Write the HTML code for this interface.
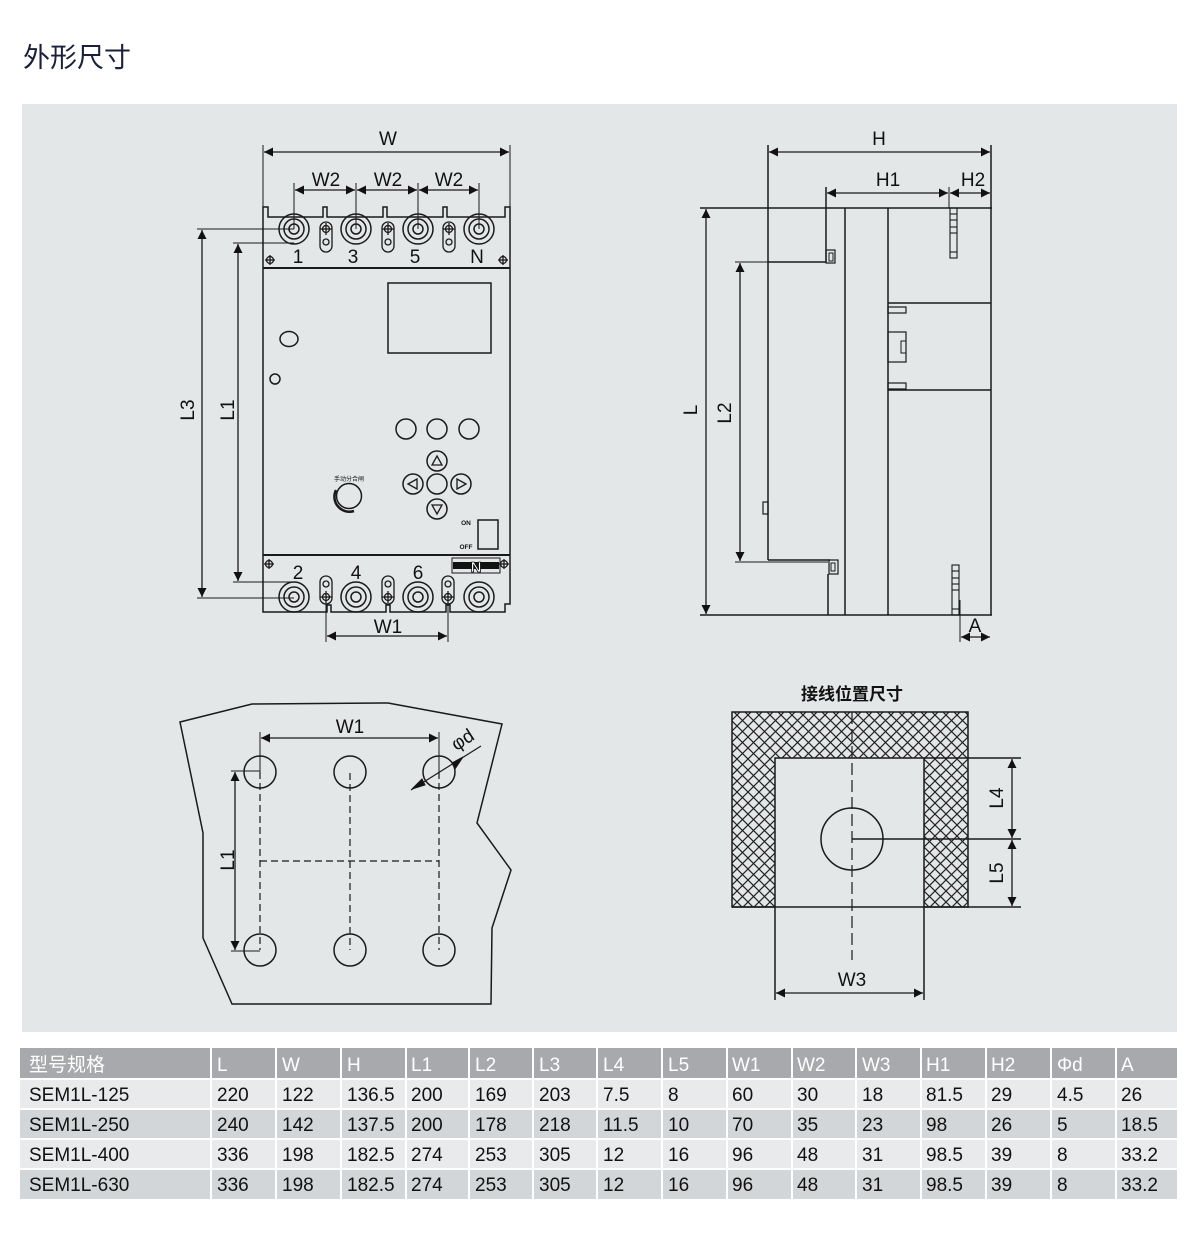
<!DOCTYPE html>
<html><head><meta charset="utf-8"><style>
html,body{margin:0;padding:0;background:#fff;}
body{width:1200px;height:1258px;position:relative;overflow:hidden;font-family:"Liberation Sans","Noto Sans CJK SC",sans-serif;}
svg{position:absolute;left:0;top:0;}
text{font-family:"Liberation Sans","Noto Sans CJK SC",sans-serif;}
</style></head><body>
<svg width="1200" height="1258" viewBox="0 0 1200 1258" xmlns="http://www.w3.org/2000/svg">
<defs>
<marker id="a" viewBox="0 0 10 10" refX="10" refY="5" markerWidth="13" markerHeight="9" markerUnits="userSpaceOnUse" orient="auto-start-reverse"><path d="M0,0 L10,5 L0,10 z" fill="#111"/></marker>
<pattern id="hatch" width="11" height="11" patternUnits="userSpaceOnUse">
<rect width="11" height="11" fill="#e4e7e8"/>
<path d="M-1,-1 L12,12 M-1,10 L1,12 M10,-1 L12,1 M12,-1 L-1,12 M-1,1 L1,-1 M10,12 L12,10" stroke="#222" stroke-width="1.2"/>
</pattern>
</defs>
<text x="23" y="67" font-size="27" fill="#1a1f3a">外形尺寸</text>
<rect x="22" y="104" width="1155" height="928" fill="#e4e7e8"/>

<g stroke="#1a1a1a" stroke-width="1.5" fill="none">
<path d="M263,268 L263,207 L268,207 L268,217 L323,217 L323,207 L327,207 L327,217 L383,217 L383,207 L387,207 L387,217 L443,217 L443,207 L447,207 L447,217 L505,217 L505,207 L510,207 L510,268"/>
<line x1="263" y1="268" x2="510" y2="268" stroke-width="2"/>
<line x1="263" y1="268" x2="263" y2="555"/>
<line x1="510" y1="268" x2="510" y2="555"/>
<line x1="263" y1="555" x2="510" y2="555" stroke-width="2"/>
<path d="M263,555 L263,612 L327,612 L327,605 L331,605 L331,612 L386,612 L386,605 L390,605 L390,612 L446,612 L446,605 L450,605 L450,612 L505,612 L505,604 L510,604 L510,555"/>
<g>
<circle cx="294" cy="229" r="15"/><circle cx="294" cy="229" r="10"/><circle cx="294" cy="229" r="5"/>
<circle cx="356" cy="229" r="15"/><circle cx="356" cy="229" r="10"/><circle cx="356" cy="229" r="5"/>
<circle cx="418" cy="229" r="15"/><circle cx="418" cy="229" r="10"/><circle cx="418" cy="229" r="5"/>
<circle cx="479" cy="229" r="15"/><circle cx="479" cy="229" r="10"/><circle cx="479" cy="229" r="5"/>
<circle cx="294" cy="597" r="15"/><circle cx="294" cy="597" r="10"/><circle cx="294" cy="597" r="5"/>
<circle cx="356" cy="597" r="15"/><circle cx="356" cy="597" r="10"/><circle cx="356" cy="597" r="5"/>
<circle cx="418" cy="597" r="15"/><circle cx="418" cy="597" r="10"/><circle cx="418" cy="597" r="5"/>
<circle cx="479" cy="597" r="15"/><circle cx="479" cy="597" r="10"/><circle cx="479" cy="597" r="5"/>
</g>
<g stroke-width="1.3">
<path d="M320,228 L320,246 A6,6 0 0 0 332,246 L332,228 A6,6 0 0 0 320,228 z"/><circle cx="326" cy="229" r="3.5"/><line x1="320" y1="229" x2="332" y2="229"/><line x1="326" y1="223" x2="326" y2="235"/><circle cx="326" cy="242" r="3"/>
<path d="M382,228 L382,246 A6,6 0 0 0 394,246 L394,228 A6,6 0 0 0 382,228 z"/><circle cx="388" cy="229" r="3.5"/><line x1="382" y1="229" x2="394" y2="229"/><line x1="388" y1="223" x2="388" y2="235"/><circle cx="388" cy="242" r="3"/>
<path d="M443,228 L443,246 A6,6 0 0 0 455,246 L455,228 A6,6 0 0 0 443,228 z"/><circle cx="449" cy="229" r="3.5"/><line x1="443" y1="229" x2="455" y2="229"/><line x1="449" y1="223" x2="449" y2="235"/><circle cx="449" cy="242" r="3"/>
<path d="M320,582 L320,598 A6,6 0 0 0 332,598 L332,582 A6,6 0 0 0 320,582 z"/><circle cx="326" cy="584" r="3"/><circle cx="326" cy="597" r="3.5"/><line x1="320" y1="597" x2="332" y2="597"/><line x1="326" y1="591" x2="326" y2="603"/>
<path d="M382,582 L382,598 A6,6 0 0 0 394,598 L394,582 A6,6 0 0 0 382,582 z"/><circle cx="388" cy="584" r="3"/><circle cx="388" cy="597" r="3.5"/><line x1="382" y1="597" x2="394" y2="597"/><line x1="388" y1="591" x2="388" y2="603"/>
<path d="M442,582 L442,598 A6,6 0 0 0 454,598 L454,582 A6,6 0 0 0 442,582 z"/><circle cx="448" cy="584" r="3"/><circle cx="448" cy="597" r="3.5"/><line x1="442" y1="597" x2="454" y2="597"/><line x1="448" y1="591" x2="448" y2="603"/>
<circle cx="270" cy="260" r="3.5"/><line x1="265" y1="260" x2="275" y2="260"/><line x1="270" y1="255" x2="270" y2="265"/>
<circle cx="503" cy="260" r="3.5"/><line x1="498" y1="260" x2="508" y2="260"/><line x1="503" y1="255" x2="503" y2="265"/>
<circle cx="269" cy="564" r="3.5"/><line x1="264" y1="564" x2="274" y2="564"/><line x1="269" y1="559" x2="269" y2="569"/>
<circle cx="504" cy="564" r="3.5"/><line x1="499" y1="564" x2="509" y2="564"/><line x1="504" y1="559" x2="504" y2="569"/>
</g>
<rect x="388" y="283" width="103" height="70"/>
<ellipse cx="289" cy="339" rx="9" ry="7.5"/>
<circle cx="275" cy="379" r="5"/>
<circle cx="406" cy="429" r="10"/><circle cx="437" cy="429" r="10"/><circle cx="469" cy="429" r="10"/>
<circle cx="437" cy="461" r="10"/><circle cx="437" cy="484" r="10"/><circle cx="437" cy="509" r="10"/><circle cx="413" cy="484" r="10"/><circle cx="461" cy="484" r="10"/>
<path d="M437,456 L432,465 L442,465 z M437,514 L432,505 L442,505 z M408,484 L417,479 L417,489 z M466,484 L457,479 L457,489 z" stroke-width="1.3"/>
<circle cx="349" cy="496" r="12.5"/>
<path d="M336,490 A15,15 0 0 0 354,511" stroke-width="2.5"/>
<rect x="478" y="520" width="20" height="29"/>
<rect x="452" y="558" width="48" height="15" stroke-width="1"/>
<line x1="263" y1="145" x2="263" y2="207" stroke-width="1"/>
<line x1="510" y1="145" x2="510" y2="207" stroke-width="1"/>
<line x1="264" y1="152" x2="509" y2="152" marker-start="url(#a)" marker-end="url(#a)" stroke-width="1.3"/>
<line x1="294" y1="183" x2="294" y2="229" stroke-width="1"/><line x1="356" y1="183" x2="356" y2="229" stroke-width="1"/><line x1="418" y1="183" x2="418" y2="229" stroke-width="1"/><line x1="479" y1="183" x2="479" y2="229" stroke-width="1"/>
<line x1="295" y1="190" x2="355" y2="190" marker-start="url(#a)" marker-end="url(#a)" stroke-width="1.3"/>
<line x1="357" y1="190" x2="417" y2="190" marker-start="url(#a)" marker-end="url(#a)" stroke-width="1.3"/>
<line x1="419" y1="190" x2="478" y2="190" marker-start="url(#a)" marker-end="url(#a)" stroke-width="1.3"/>
<line x1="197" y1="229" x2="294" y2="229" stroke-width="1"/><line x1="197" y1="598" x2="294" y2="598" stroke-width="1"/>
<line x1="202" y1="230" x2="202" y2="597" marker-start="url(#a)" marker-end="url(#a)" stroke-width="1.3"/>
<line x1="233" y1="243" x2="294" y2="243" stroke-width="1"/><line x1="233" y1="582" x2="294" y2="582" stroke-width="1"/>
<line x1="238" y1="244" x2="238" y2="581" marker-start="url(#a)" marker-end="url(#a)" stroke-width="1.3"/>
<line x1="326" y1="600" x2="326" y2="642" stroke-width="1"/><line x1="448" y1="600" x2="448" y2="642" stroke-width="1"/>
<line x1="327" y1="636" x2="447" y2="636" marker-start="url(#a)" marker-end="url(#a)" stroke-width="1.3"/>

<line x1="700" y1="208" x2="992" y2="208"/>
<line x1="700" y1="615" x2="992" y2="615"/>
<line x1="768" y1="145" x2="768" y2="560"/>
<line x1="768" y1="262" x2="826" y2="262"/>
<line x1="768" y1="560" x2="830" y2="560"/>
<line x1="826" y1="187" x2="826" y2="262"/>
<rect x="826" y="250" width="9" height="13" stroke-width="1.2"/><rect x="829" y="253" width="4" height="8" stroke-width="1"/>
<rect x="829" y="560" width="9" height="14" stroke-width="1.2"/><rect x="831" y="563" width="4" height="8" stroke-width="1"/>
<line x1="828" y1="574" x2="828" y2="615"/>
<line x1="845" y1="208" x2="845" y2="615"/>
<line x1="888" y1="208" x2="888" y2="615"/>
<line x1="991" y1="145" x2="991" y2="615"/>
<line x1="888" y1="303" x2="991" y2="303"/>
<line x1="888" y1="390" x2="991" y2="390"/>
<rect x="888" y="307" width="18" height="6" stroke-width="1.2"/>
<rect x="888" y="383" width="18" height="6" stroke-width="1.2"/>
<rect x="888" y="332" width="18" height="30" stroke-width="1.2"/><rect x="901" y="341" width="5" height="12" stroke-width="1"/>
<rect x="763" y="502" width="5" height="12" stroke-width="1.2"/>
<g stroke-width="1.1"><rect x="950" y="208" width="7" height="50"/><line x1="950" y1="214" x2="957" y2="214"/><line x1="950" y1="220" x2="957" y2="220"/><line x1="950" y1="227" x2="957" y2="227"/><line x1="950" y1="233" x2="957" y2="233"/><line x1="950" y1="252" x2="957" y2="252"/>
<rect x="952" y="565" width="7" height="50"/><line x1="952" y1="571" x2="959" y2="571"/><line x1="952" y1="578" x2="959" y2="578"/><line x1="952" y1="584" x2="959" y2="584"/><line x1="952" y1="590" x2="959" y2="590"/><line x1="952" y1="609" x2="959" y2="609"/></g>
<line x1="769" y1="152" x2="990" y2="152" marker-start="url(#a)" marker-end="url(#a)" stroke-width="1.3"/>
<line x1="949" y1="187" x2="949" y2="208" stroke-width="1"/>
<line x1="827" y1="193" x2="948" y2="193" marker-start="url(#a)" marker-end="url(#a)" stroke-width="1.3"/>
<line x1="950" y1="193" x2="990" y2="193" marker-start="url(#a)" marker-end="url(#a)" stroke-width="1.3"/>
<line x1="706" y1="209" x2="706" y2="614" marker-start="url(#a)" marker-end="url(#a)" stroke-width="1.3"/>
<line x1="735" y1="262" x2="768" y2="262" stroke-width="1"/><line x1="735" y1="562" x2="828" y2="562" stroke-width="1"/>
<line x1="740" y1="263" x2="740" y2="561" marker-start="url(#a)" marker-end="url(#a)" stroke-width="1.3"/>
<line x1="960" y1="600" x2="960" y2="642" stroke-width="1"/>
<line x1="961" y1="637" x2="990" y2="637" marker-start="url(#a)" marker-end="url(#a)" stroke-width="1.3"/>

<path d="M180,722 L252,704 L388,703 L502,724 L477,823 L511,870 L492,928 L491,1004 L232,1004 L203,938 L203,833 Z"/>
<circle cx="260" cy="772" r="16"/><circle cx="350" cy="772" r="16"/><circle cx="439" cy="772" r="16"/>
<circle cx="260" cy="950" r="16"/><circle cx="350" cy="950" r="16"/><circle cx="439" cy="950" r="16"/>
<g stroke-dasharray="7,4" stroke-width="1.2">
<line x1="260" y1="772" x2="260" y2="950"/><line x1="350" y1="773" x2="350" y2="950"/><line x1="439" y1="772" x2="439" y2="950"/>
<line x1="260" y1="861" x2="439" y2="861"/>
</g>
<line x1="260" y1="732" x2="260" y2="772" stroke-width="1"/><line x1="439" y1="732" x2="439" y2="772" stroke-width="1"/>
<line x1="261" y1="738" x2="438" y2="738" marker-start="url(#a)" marker-end="url(#a)" stroke-width="1.3"/>
<line x1="231" y1="771" x2="260" y2="771" stroke-width="1"/><line x1="231" y1="951" x2="260" y2="951" stroke-width="1"/>
<line x1="235" y1="772" x2="235" y2="950" marker-start="url(#a)" marker-end="url(#a)" stroke-width="1.3"/>
<line x1="411" y1="790" x2="481" y2="746" stroke-width="1.2"/>
<path d="M412,789 L422,779 L425,785 z M463,757 L452,763 L455,769 z" fill="#111" stroke-width="1"/>

<path d="M732,712 L968,712 L968,907 L924,907 L924,758 L775,758 L775,907 L732,907 Z" fill="url(#hatch)"/>
<circle cx="852" cy="839" r="31"/>
<line x1="852" y1="712" x2="852" y2="960" stroke-dasharray="12,5" stroke-width="1.2"/>
<line x1="852" y1="839" x2="1021" y2="839"/>
<line x1="924" y1="758" x2="1021" y2="758"/>
<line x1="732" y1="907" x2="1021" y2="907"/>
<line x1="1012" y1="759" x2="1012" y2="838" marker-start="url(#a)" marker-end="url(#a)" stroke-width="1.3"/>
<line x1="1012" y1="840" x2="1012" y2="906" marker-start="url(#a)" marker-end="url(#a)" stroke-width="1.3"/>
<line x1="775" y1="907" x2="775" y2="1000"/><line x1="924" y1="907" x2="924" y2="1000"/>
<line x1="776" y1="993" x2="923" y2="993" marker-start="url(#a)" marker-end="url(#a)" stroke-width="1.3"/>
</g>

<g fill="#111" font-size="19" text-anchor="middle">
<text x="388" y="145">W</text>
<text x="326" y="186">W2</text><text x="388" y="186">W2</text><text x="449" y="186">W2</text>
<text x="298" y="263">1</text><text x="353" y="263">3</text><text x="415" y="263">5</text><text x="477" y="263">N</text>
<text x="298" y="579">2</text><text x="356" y="579">4</text><text x="418" y="579">6</text>
<text x="388" y="633">W1</text>
<text x="194" y="410" transform="rotate(-90 194 410)">L3</text>
<text x="234" y="410" transform="rotate(-90 234 410)">L1</text>
<text x="879" y="145">H</text>
<text x="888" y="186">H1</text><text x="973" y="186">H2</text>
<text x="697" y="410" transform="rotate(-90 697 410)">L</text>
<text x="731" y="413" transform="rotate(-90 731 413)">L2</text>
<text x="975" y="632">A</text>
<text x="350" y="733">W1</text>
<text x="234" y="860" transform="rotate(-90 234 860)">L1</text>
<text x="466" y="745" transform="rotate(-33 466 745)">φd</text>
<text x="852" y="700" font-weight="bold" font-size="17">接线位置尺寸</text>
<text x="1003" y="798" transform="rotate(-90 1003 798)">L4</text>
<text x="1003" y="873" transform="rotate(-90 1003 873)">L5</text>
<text x="852" y="986">W3</text>
<text x="349" y="481" font-size="6">手动分合闸</text>
<text x="466" y="525" font-size="6.5" font-weight="bold">ON</text>
<text x="466" y="549" font-size="6.5" font-weight="bold">OFF</text>
</g>
<rect x="453" y="562" width="46" height="7" fill="#111"/>
<text x="476" y="572" font-size="15" font-weight="bold" fill="#fff" stroke="#111" stroke-width="0.8" text-anchor="middle">N</text>

<g>
<rect x="20" y="1048" width="1157" height="31" fill="#a7a9ac"/>
<rect x="20" y="1079" width="1157" height="30" fill="#e8eaeb"/>
<rect x="20" y="1109" width="1157" height="30" fill="#d3d6d8"/>
<rect x="20" y="1139" width="1157" height="30" fill="#e8eaeb"/>
<rect x="20" y="1169" width="1157" height="30" fill="#d3d6d8"/>
<g stroke="#fff" stroke-width="2">
<line x1="211" y1="1048" x2="211" y2="1199"/><line x1="276" y1="1048" x2="276" y2="1199"/><line x1="341" y1="1048" x2="341" y2="1199"/><line x1="406" y1="1048" x2="406" y2="1199"/><line x1="469" y1="1048" x2="469" y2="1199"/><line x1="533" y1="1048" x2="533" y2="1199"/><line x1="597" y1="1048" x2="597" y2="1199"/><line x1="662" y1="1048" x2="662" y2="1199"/><line x1="727" y1="1048" x2="727" y2="1199"/><line x1="792" y1="1048" x2="792" y2="1199"/><line x1="856" y1="1048" x2="856" y2="1199"/><line x1="921" y1="1048" x2="921" y2="1199"/><line x1="986" y1="1048" x2="986" y2="1199"/><line x1="1051" y1="1048" x2="1051" y2="1199"/><line x1="1116" y1="1048" x2="1116" y2="1199"/>
<line x1="20" y1="1079" x2="1177" y2="1079"/><line x1="20" y1="1109" x2="1177" y2="1109"/><line x1="20" y1="1139" x2="1177" y2="1139"/><line x1="20" y1="1169" x2="1177" y2="1169"/>
</g>
<g font-size="19" fill="#fff">
<text x="29" y="1071">型号规格</text><text x="217" y="1071">L</text><text x="282" y="1071">W</text><text x="347" y="1071">H</text><text x="411" y="1071">L1</text><text x="475" y="1071">L2</text><text x="539" y="1071">L3</text><text x="603" y="1071">L4</text><text x="668" y="1071">L5</text><text x="732" y="1071">W1</text><text x="797" y="1071">W2</text><text x="862" y="1071">W3</text><text x="926" y="1071">H1</text><text x="991" y="1071">H2</text><text x="1057" y="1071">Φd</text><text x="1121" y="1071">A</text>
</g>
<g font-size="19" fill="#111">
<text x="29" y="1101">SEM1L-125</text><text x="217" y="1101">220</text><text x="282" y="1101">122</text><text x="347" y="1101">136.5</text><text x="411" y="1101">200</text><text x="475" y="1101">169</text><text x="539" y="1101">203</text><text x="603" y="1101">7.5</text><text x="668" y="1101">8</text><text x="732" y="1101">60</text><text x="797" y="1101">30</text><text x="862" y="1101">18</text><text x="926" y="1101">81.5</text><text x="991" y="1101">29</text><text x="1057" y="1101">4.5</text><text x="1121" y="1101">26</text>
<text x="29" y="1131">SEM1L-250</text><text x="217" y="1131">240</text><text x="282" y="1131">142</text><text x="347" y="1131">137.5</text><text x="411" y="1131">200</text><text x="475" y="1131">178</text><text x="539" y="1131">218</text><text x="603" y="1131">11.5</text><text x="668" y="1131">10</text><text x="732" y="1131">70</text><text x="797" y="1131">35</text><text x="862" y="1131">23</text><text x="926" y="1131">98</text><text x="991" y="1131">26</text><text x="1057" y="1131">5</text><text x="1121" y="1131">18.5</text>
<text x="29" y="1161">SEM1L-400</text><text x="217" y="1161">336</text><text x="282" y="1161">198</text><text x="347" y="1161">182.5</text><text x="411" y="1161">274</text><text x="475" y="1161">253</text><text x="539" y="1161">305</text><text x="603" y="1161">12</text><text x="668" y="1161">16</text><text x="732" y="1161">96</text><text x="797" y="1161">48</text><text x="862" y="1161">31</text><text x="926" y="1161">98.5</text><text x="991" y="1161">39</text><text x="1057" y="1161">8</text><text x="1121" y="1161">33.2</text>
<text x="29" y="1191">SEM1L-630</text><text x="217" y="1191">336</text><text x="282" y="1191">198</text><text x="347" y="1191">182.5</text><text x="411" y="1191">274</text><text x="475" y="1191">253</text><text x="539" y="1191">305</text><text x="603" y="1191">12</text><text x="668" y="1191">16</text><text x="732" y="1191">96</text><text x="797" y="1191">48</text><text x="862" y="1191">31</text><text x="926" y="1191">98.5</text><text x="991" y="1191">39</text><text x="1057" y="1191">8</text><text x="1121" y="1191">33.2</text>
</g>
</g>
</svg>
</body></html>
